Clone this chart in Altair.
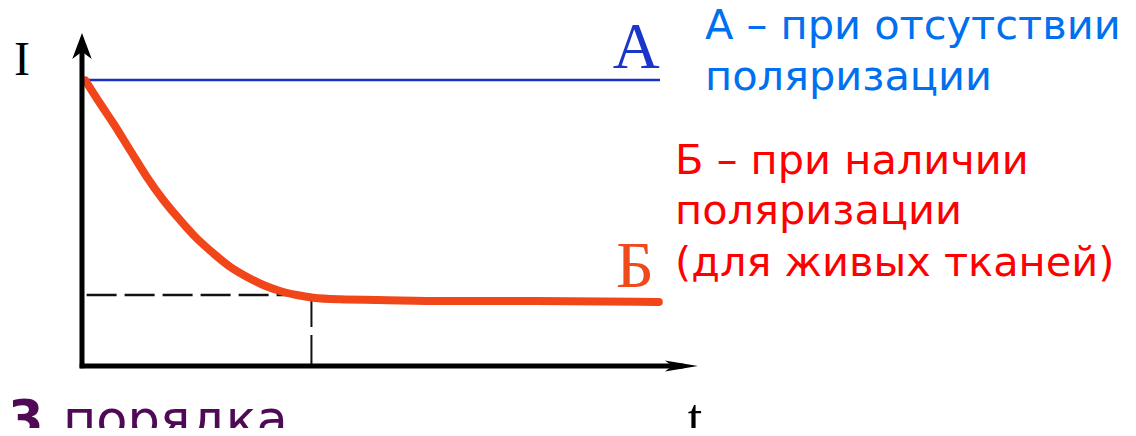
import altair as alt
import pandas as pd

# --- data ---
curve_a_t = [0.0, 10.0]
curve_a_i = [1.0, 1.0]

curve_b_t = [0.06, 0.311, 0.542, 0.830, 1.119, 1.407, 1.696, 1.984, 2.272, 2.561, 2.849,
             3.137, 3.426, 3.714, 4.002, 4.464, 5.12, 6.28, 7.83, 9.98]
curve_b_i = [0.998, 0.9185, 0.8486, 0.7552, 0.6619, 0.5804, 0.5105, 0.4465, 0.3941, 0.3472,
             0.3122, 0.2832, 0.2622, 0.2483, 0.2388, 0.2332, 0.231, 0.227, 0.227, 0.224]

level_t = 3.97
level_i = 0.248

axis_x_end = 10.4
axis_y_end = 1.12

# labels
label_text = ["I", "A", "Б", "t"]
label_t = [-1.04, 9.588, 9.567, 10.606]
label_i = [1.0175, 1.042, 0.276, -0.241]

legend_a = ["А – при отсутствии", "поляризации"]
legend_a_t = [10.779, 10.779]
legend_a_i = [1.1434, 0.965]

legend_b = ["Б – при наличии", "поляризации", "(для живых тканей)"]
legend_b_t = [10.26, 10.26, 10.26]
legend_b_i = [0.6713, 0.4965, 0.3147]

bottom_bold = "3"
bottom_rest = "порядка"

# --- scales ---
X_DOMAIN = [-1.280, 18.097]
Y_DOMAIN = [-0.2168, 1.2517]
xs = alt.Scale(domain=X_DOMAIN, nice=False, zero=False)
ys = alt.Scale(domain=Y_DOMAIN, nice=False, zero=False)


def X(field="t"):
    return alt.X(f"{field}:Q", scale=xs, axis=None)


def Y(field="i"):
    return alt.Y(f"{field}:Q", scale=ys, axis=None)


# axes (drawn)
y_axis = alt.Chart(pd.DataFrame({"t": [0.0], "i": [-0.008], "i2": [axis_y_end]})).mark_rule(
    color="black", strokeWidth=5
).encode(x=X(), y=Y(), y2="i2:Q")
x_axis = alt.Chart(pd.DataFrame({"t": [-0.04], "t2": [axis_x_end], "i": [0.0]})).mark_rule(
    color="black", strokeWidth=5
).encode(x=X(), x2="t2:Q", y=Y())

arrow_up = alt.Chart(pd.DataFrame({"t": [0.0], "i": [1.119]})).mark_point(
    shape="M0,-1 L0.75,1 L0,0.45 L-0.75,1 Z", filled=True, color="black", size=676, opacity=1
).encode(x=X(), y=Y())
arrow_right = alt.Chart(pd.DataFrame({"t": [10.37], "i": [0.0]})).mark_point(
    shape="M1,0 L-1,0.34 L-0.55,0 L-1,-0.34 Z", filled=True, color="black", size=1089, opacity=1
).encode(x=X(), y=Y())

# dashed guides
dash_h = alt.Chart(pd.DataFrame({"t": [0.08], "t2": [level_t], "i": [level_i]})).mark_rule(
    color="#111111", strokeWidth=2.5, strokeDash=[30, 8]
).encode(x=X(), x2="t2:Q", y=Y())
dash_v = alt.Chart(pd.DataFrame({"t": [level_t], "i": [level_i], "i2": [0.0]})).mark_rule(
    color="#111111", strokeWidth=2, strokeDash=[32, 8]
).encode(x=X(), y=Y(), y2="i2:Q")

# curves
line_a = alt.Chart(pd.DataFrame({"t": curve_a_t, "i": curve_a_i})).mark_line(
    color="#1a2ec8", strokeWidth=2.5
).encode(x=X(), y=Y())
line_b = alt.Chart(pd.DataFrame({"t": curve_b_t, "i": curve_b_i})).mark_line(
    color="#f0461a", strokeWidth=8, strokeCap="round", interpolate="monotone"
).encode(x=X(), y=Y())

# labels
lab_df = pd.DataFrame({"txt": label_text, "t": label_t, "i": label_i,
                       "c": ["black", "#1a35cc", "#ee4a1c", "black"],
                       "s": [48, 65, 66, 52]})
labels = alt.Chart(lab_df).mark_text(
    font="Liberation Serif", align="center", baseline="alphabetic"
).encode(x=X(), y=Y(), text="txt:N",
         color=alt.Color("c:N", scale=None),
         size=alt.Size("s:Q", scale=None))

leg_a = alt.Chart(pd.DataFrame({"txt": legend_a, "t": legend_a_t, "i": legend_a_i})).mark_text(
    font="DejaVu Sans", fontSize=41.5, align="left", baseline="alphabetic", color="#0070f0"
).encode(x=X(), y=Y(), text="txt:N")
leg_b = alt.Chart(pd.DataFrame({"txt": legend_b, "t": legend_b_t, "i": legend_b_i})).mark_text(
    font="DejaVu Sans", fontSize=41.5, align="left", baseline="alphabetic", color="#ff0000"
).encode(x=X(), y=Y(), text="txt:N")

bot1 = alt.Chart(pd.DataFrame({"txt": [bottom_bold], "t": [-1.28], "i": [-0.248]})).mark_text(
    font="DejaVu Sans", fontSize=51, fontWeight="bold", align="left", baseline="alphabetic",
    color="#4f0a55"
).encode(x=X(), y=Y(), text="txt:N")
bot2 = alt.Chart(pd.DataFrame({"txt": [bottom_rest], "t": [-0.33], "i": [-0.248]})).mark_text(
    font="DejaVu Sans", fontSize=51, align="left", baseline="alphabetic", color="#4f0a55"
).encode(x=X(), y=Y(), text="txt:N")

chart = alt.layer(
    dash_h, dash_v, line_a, line_b, y_axis, x_axis, arrow_up, arrow_right,
    labels, leg_a, leg_b, bot1, bot2
).properties(
    width=1120, height=420, padding=0,
    autosize=alt.AutoSizeParams(type="none"),
    background="white"
).configure_view(stroke=None)

chart.save("out.html", embed_options={"renderer": "svg", "actions": False})
